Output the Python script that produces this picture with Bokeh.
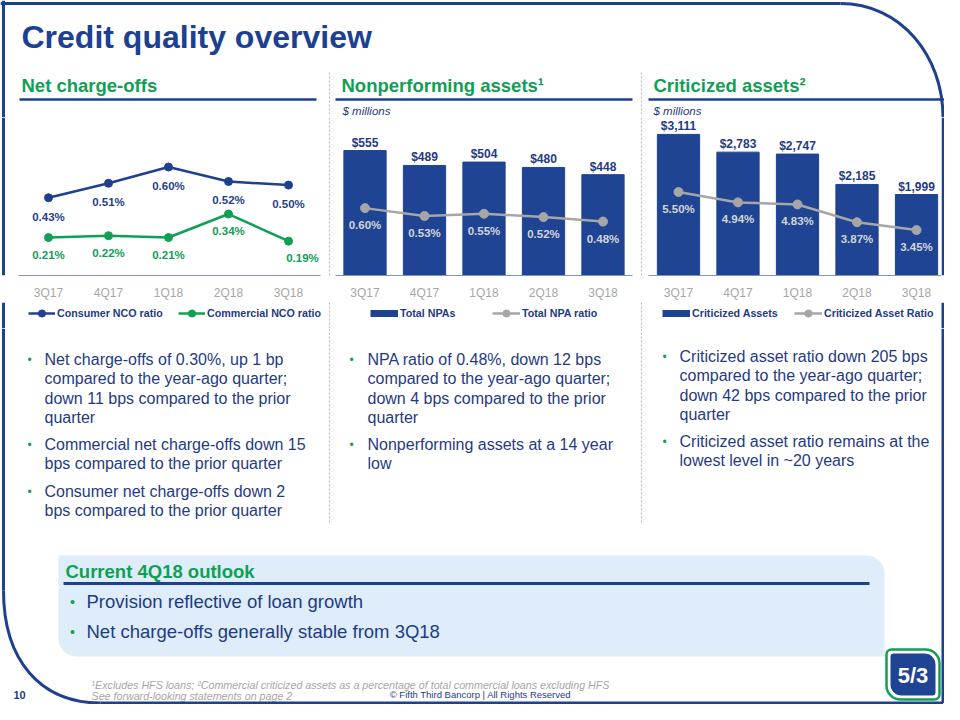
from bokeh.plotting import figure
from bokeh.models import Range1d, FixedTicker, Legend, LegendItem
from bokeh.layouts import column, row
from bokeh.core.properties import value
from bokeh.embed import file_html
from bokeh.resources import INLINE

# ---------------- data ----------------
quarters = ["3Q17", "4Q17", "1Q18", "2Q18", "3Q18"]
consumer_nco = [0.43, 0.51, 0.60, 0.52, 0.50]
commercial_nco = [0.21, 0.22, 0.21, 0.34, 0.19]
total_npas = [555, 489, 504, 480, 448]
npa_ratio = [0.60, 0.53, 0.55, 0.52, 0.48]
criticized_assets = [3111, 2783, 2747, 2185, 1999]
criticized_ratio = [5.50, 4.94, 4.83, 3.87, 3.45]

# ---------------- styles ----------------
FONT = "Liberation Sans"
F = value(FONT)
BORDER = "#1d4190"
TITLE = "#1c4092"
GREEN = "#10a055"
TEXT = "#1f3b84"
NAVY = "#1f3f8f"
BAR = "#1f4494"
GRAYL = "#a6a6a6"
LIGHT = "#d3d5da"
TICK = "#a6a6a6"
DIV = "#b5b5b5"
BOX = "#deedf9"
FOOT = "#a6a6a6"
NAN = float("nan")

XPOS = list(range(len(quarters)))


def deco(width, height, xr, yr):
    p = figure(width=width, height=height, x_range=Range1d(*xr), y_range=Range1d(yr[1], yr[0]),
               output_backend="svg", toolbar_location=None, min_border=0,
               x_axis_location=None, y_axis_location=None, outline_line_color=None)
    p.grid.visible = False
    return p


def put(p, x, y, s, size, color, style="normal", align="left", baseline="middle"):
    p.text(x=[x], y=[y], text=[s], text_font=F, text_font_size=size, text_color=color,
           text_font_style=style, text_align=align, text_baseline=baseline)


def seg(p, xs, ys, color=BORDER, width=3, dash="solid"):
    p.line(x=xs, y=ys, line_color=color, line_width=width, line_dash=dash)


ROW_H = 185


def chart(width, bl, br, xr, yr):
    p = figure(width=width, height=ROW_H, x_range=Range1d(*xr), y_range=Range1d(*yr),
               output_backend="svg", toolbar_location=None, min_border_left=bl, min_border_right=br,
               min_border_top=0, min_border_bottom=26, y_axis_location=None, outline_line_color=None)
    p.grid.visible = False
    ax = p.xaxis[0]
    ax.ticker = FixedTicker(ticks=XPOS)
    ax.major_label_overrides = {i: q for i, q in zip(XPOS, quarters)}
    ax.axis_line_color = "#7f93c2"
    ax.axis_line_width = 1
    ax.major_tick_line_color = None
    ax.minor_tick_line_color = None
    ax.major_label_text_font = FONT
    ax.major_label_text_font_size = "12px"
    ax.major_label_text_color = TICK
    ax.major_label_standoff = 4
    return p


def pct(vals):
    return [f"{v:.2f}%" for v in vals]


def usd(vals):
    return [f"${v:,}" for v in vals]


def ratio_labels(p, ys, color, off, rng="default", xoff=None):
    p.text(x=XPOS, y=ys, text=pct(ys), y_range_name=rng, y_offset=off,
           x_offset=xoff if xoff is not None else 0, text_align="center", text_baseline="middle",
           text_font=F, text_font_size="11.5px", text_font_style="bold", text_color=color)


def bar_labels(p, ys):
    p.text(x=XPOS, y=ys, text=usd(ys), y_offset=-8, text_align="center", text_baseline="middle",
           text_font=F, text_font_size="12px", text_font_style="bold", text_color=TEXT)


# ---------------- top band (y 0..117) ----------------
top = deco(944, 117, (0, 944), (0, 117))
seg(top, [0, 840], [3, 3])
top.bezier(x0=[840], y0=[3], x1=[942.5], y1=[117], cx0=[900], cy0=[3], cx1=[942.5], cy1=[55],
           line_color=BORDER, line_width=3)
seg(top, [3, 3], [0, 117])
put(top, 21, 36, "Credit quality overview", "32px", TITLE, "bold")
put(top, 21, 85, "Net charge-offs", "18.5px", GREEN, "bold")
put(top, 341, 85, "Nonperforming assets\u00b9", "18.5px", GREEN, "bold")
put(top, 653, 85, "Criticized assets\u00b2", "18.5px", GREEN, "bold")
for a, b in [(19, 316), (335, 632), (648, 946)]:
    seg(top, [a, b], [99, 99], BORDER, 2.5)
put(top, 342, 110, "$ millions", "11.5px", TEXT, "italic")
put(top, 653, 110, "$ millions", "11.5px", TEXT, "italic")
for xd in (329, 641):
    seg(top, [xd, xd], [72, 117], DIV, 1, "2 2")

# ---------------- chart 1: Net charge-offs (frame x 18..320, y 117..276) ----------------
c1 = chart(313, 4, 7, (-0.5, 4.533), (0, 0.874))
c1.line(XPOS, consumer_nco, line_color=NAVY, line_width=2.5)
c1.scatter(XPOS, consumer_nco, size=8, color=NAVY)
c1.line(XPOS, commercial_nco, line_color=GREEN, line_width=2.5)
c1.scatter(XPOS, commercial_nco, size=8, color=GREEN)
ratio_labels(c1, consumer_nco, NAVY, 19)
ratio_labels(c1, commercial_nco, GREEN, 17, xoff=[0, 0, 0, 0, 14])

# ---------------- chart 2: Nonperforming assets (frame x 335..632) ----------------
c2 = chart(308, 4, 7, (-0.496, 4.496), (0, 702))
c2.extra_y_ranges = {"r": Range1d(0, 1.407)}
c2.vbar(x=XPOS, top=total_npas, width=0.71, color=BAR)
bar_labels(c2, total_npas)
c2.line(XPOS, npa_ratio, y_range_name="r", line_color=GRAYL, line_width=2.5)
c2.scatter(XPOS, npa_ratio, y_range_name="r", size=9, color=GRAYL)
ratio_labels(c2, npa_ratio, LIGHT, 17, rng="r")

# ---------------- chart 3: Criticized assets (frame x 648..941) ----------------
c3 = chart(298, 5, 0, (-0.504, 4.42), (500, 3424))
c3.extra_y_ranges = {"r": Range1d(1.0, 9.516)}
c3.vbar(x=XPOS, top=criticized_assets, width=0.71, color=BAR)
bar_labels(c3, criticized_assets)
c3.line(XPOS, criticized_ratio, y_range_name="r", line_color=GRAYL, line_width=2.5)
c3.scatter(XPOS, criticized_ratio, y_range_name="r", size=9, color=GRAYL)
ratio_labels(c3, criticized_ratio, LIGHT, 17, rng="r")

# ---------------- strips in the chart row ----------------
ls = deco(14, ROW_H, (0, 14), (117, 302))
seg(ls, [3, 3], [117, 302])
d1 = deco(4, ROW_H, (327, 331), (117, 302))
seg(d1, [329, 329], [117, 302], DIV, 1, "2 2")
d2 = deco(4, ROW_H, (639, 643), (117, 302))
seg(d2, [641, 641], [117, 302], DIV, 1, "2 2")
rs = deco(3, ROW_H, (941, 944), (117, 302))
seg(rs, [942.5, 942.5], [117, 302])

# ---------------- legend row (y 302..328) ----------------
lg = deco(944, 26, (0, 944), (302, 328))
seg(lg, [3, 3], [302, 328])
seg(lg, [942.5, 942.5], [302, 328])
for xd in (329, 641):
    seg(lg, [xd, xd], [302, 328], DIV, 1, "2 2")


def line_key(color, size):
    r1 = lg.line(x=[NAN], y=[NAN], line_color=color, line_width=2.5)
    r2 = lg.scatter(x=[NAN], y=[NAN], size=size, color=color)
    return [r1, r2]


def bar_key():
    return [lg.line(x=[NAN], y=[NAN], line_color=BAR, line_width=7)]


def add_key(label, renderers, xpos, gw):
    leg = Legend(items=[LegendItem(label=label, renderers=renderers)], location=(xpos, 6),
                 orientation="horizontal", glyph_width=gw, glyph_height=18, label_height=18,
                 label_standoff=2, padding=0, margin=0, border_line_color=None,
                 background_fill_alpha=0, label_text_font=FONT, label_text_font_size="10.7px",
                 label_text_font_style="bold", label_text_color=TEXT)
    lg.add_layout(leg)


add_key("Consumer NCO ratio", line_key(NAVY, 8), 28, 27)
add_key("Commercial NCO ratio", line_key(GREEN, 8), 178, 27)
add_key("Total NPAs", bar_key(), 370, 28)
add_key("Total NPA ratio", line_key(GRAYL, 9), 492, 28)
add_key("Criticized Assets", bar_key(), 662, 28)
add_key("Criticized Asset Ratio", line_key(GRAYL, 9), 794, 28)

# ---------------- bottom band (y 328..704) ----------------
bot = deco(944, 376, (0, 944), (328, 704))
for xd in (329, 641):
    seg(bot, [xd, xd], [328, 522], DIV, 1, "2 2")

LINE = 19.3
col1 = [["Net charge-offs of 0.30%, up 1 bp", "compared to the year-ago quarter;",
         "down 11 bps compared to the prior", "quarter"],
        ["Commercial net charge-offs down 15", "bps compared to the prior quarter"],
        ["Consumer net charge-offs down 2", "bps compared to the prior quarter"]]
col2 = [["NPA ratio of 0.48%, down 12 bps", "compared to the year-ago quarter;",
         "down 4 bps compared to the prior", "quarter"],
        ["Nonperforming assets at a 14 year", "low"]]
col3 = [["Criticized asset ratio down 205 bps", "compared to the year-ago quarter;",
         "down 42 bps compared to the prior", "quarter"],
        ["Criticized asset ratio remains at the", "lowest level in ~20 years"]]
for paras, xb, xt, ys in [(col1, 29, 44, [359, 444, 491]), (col2, 351, 367, [359, 444]),
                          (col3, 664, 679, [356, 441])]:
    for para, y0 in zip(paras, ys):
        put(bot, xb, y0, "\u2022", "12px", GREEN, align="center")
        for i, ln in enumerate(para):
            put(bot, xt, y0 + i * LINE, ln, "16px", TEXT)

# outlook box
bot.quad(left=[58], right=[884], top=[555], bottom=[656], fill_color=BOX, line_color=None,
         border_radius=(0, 18, 0, 18))
put(bot, 65, 571, "Current 4Q18 outlook", "18.5px", GREEN, "bold")
seg(bot, [63, 869], [583, 583], BORDER, 3)
for y0, s in [(601, "Provision reflective of loan growth"), (631, "Net charge-offs generally stable from 3Q18")]:
    put(bot, 72, y0, "\u2022", "14px", GREEN, align="center")
    put(bot, 86, y0, s, "18.5px", TEXT)

# footnotes and footer
put(bot, 91, 684, "\u00b9Excludes HFS loans; \u00b2Commercial criticized assets as a percentage of total "
                  "commercial loans excluding HFS", "10.7px", FOOT, "italic")
put(bot, 91, 695, "See forward-looking statements on page 2", "10.7px", FOOT, "italic")
put(bot, 13, 694, "10", "11px", TEXT, "bold")
put(bot, 480, 694, "\u00a9 Fifth Third Bancorp | All Rights Reserved", "9.5px", TEXT, align="center")

# logo
bot.quad(left=[886], right=[939], top=[649], bottom=[699], fill_color="white", line_color=GREEN,
         line_width=2.5, border_radius=(5, 14, 5, 14))
bot.quad(left=[890], right=[935], top=[653], bottom=[695], fill_color=BAR, line_color=None,
         border_radius=(3, 11, 3, 11))
put(bot, 912.5, 674.5, "5/3", "22px", "white", "bold", align="center")

# border
seg(bot, [3, 3], [328, 590])
bot.bezier(x0=[3], y0=[590], x1=[100], y1=[702.5], cx0=[3], cy0=[660], cx1=[40], cy1=[702.5],
           line_color=BORDER, line_width=3)
seg(bot, [100, 942.5], [702.5, 702.5])
seg(bot, [942.5, 942.5], [328, 702.5])

layout = column(top, row(ls, c1, d1, c2, d2, c3, rs, spacing=0), lg, bot, spacing=0)
open("out.html", "w").write(file_html(layout, INLINE))
